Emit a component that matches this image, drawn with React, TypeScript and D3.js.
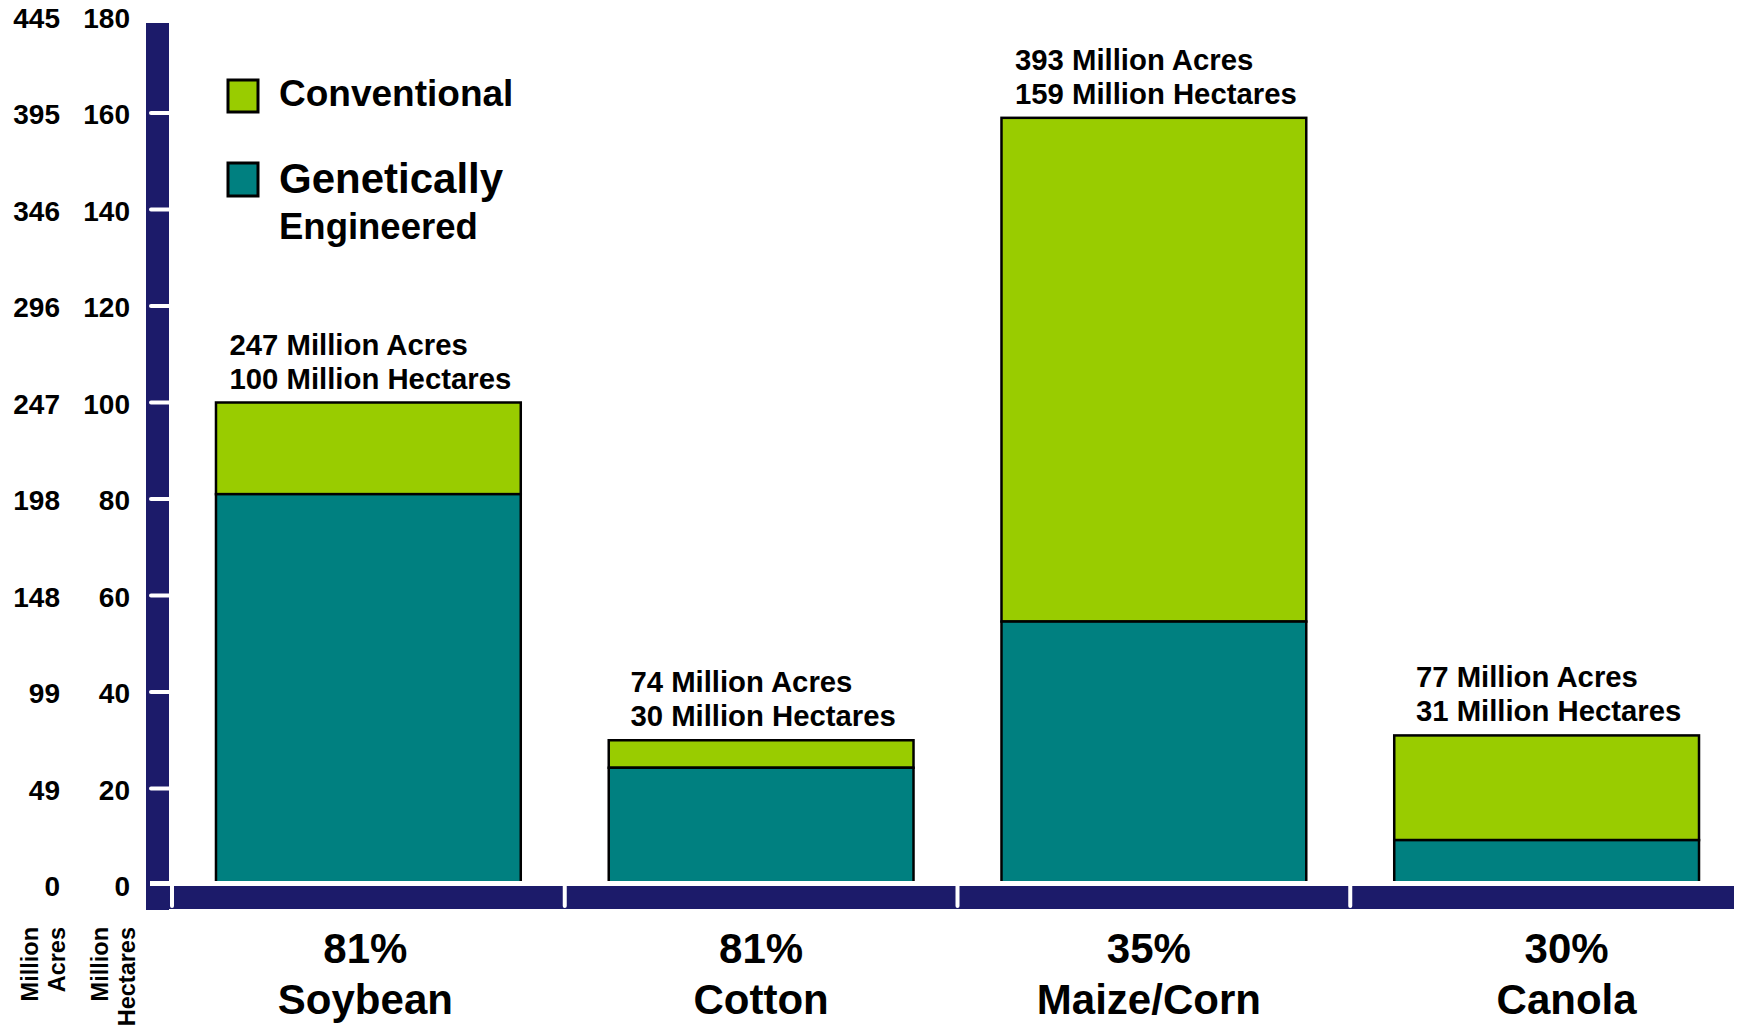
import React from "react";
import * as d3 from "d3";

const categories = ["Soybean", "Cotton", "Maize/Corn", "Canola"];
const adoptionPct = ["81%", "81%", "35%", "30%"];
const totalHectares = [100, 30, 159, 31];
const totalAcres = [247, 74, 393, 77];
const geHectares = [81, 24.3, 54.6, 9.3];
const hectareTicks = [0, 20, 40, 60, 80, 100, 120, 140, 160, 180];
const acreTickLabels = ["0", "49", "99", "148", "198", "247", "296", "346", "395", "445"];
const legendItems = ["Conventional", "Genetically"];

const W = 1741;
const H = 1027;
const NAVY = "#1c1b6a";
const GREEN = "#99cc00";
const TEAL = "#008080";
const FONT = "'Liberation Sans', Arial, Helvetica, sans-serif";
// horizontal nudge of category labels (layout only)
const labelShift = [-3, 0, -5, 20];

let ctx: CanvasRenderingContext2D | null = null;
function measure(text: string, size: number) {
  if (!ctx) ctx = document.createElement("canvas").getContext("2d");
  if (!ctx) return text.length * size * 0.55;
  ctx.font = `bold ${size}px ${FONT}`;
  return ctx.measureText(text).width;
}

export default function App() {
  const y = d3.scaleLinear().domain([0, 180]).range([885, 16.5]);
  const x = d3
    .scaleBand<string>()
    .domain(categories)
    .range([172, 1743])
    .paddingInner(0.224)
    .paddingOuter(0.112);
  const bw = x.bandwidth();
  const annSize = 29.3;

  return (
    <svg
      width={W}
      height={H}
      style={{ position: "absolute", left: 0, top: 0, background: "#fff" }}
      fontFamily={FONT}
      fontWeight="bold"
    >
      <rect x={0} y={0} width={W} height={H} fill="#fff" />

      {/* bars */}
      {categories.map((c, i) => {
        const x0 = x(c)!;
        return (
          <g key={c}>
            <rect
              x={x0}
              y={y(totalHectares[i])}
              width={bw}
              height={y(geHectares[i]) - y(totalHectares[i])}
              fill={GREEN}
              stroke="#000"
              strokeWidth={2.5}
            />
            <rect
              x={x0}
              y={y(geHectares[i])}
              width={bw}
              height={y(0) - y(geHectares[i])}
              fill={TEAL}
              stroke="#000"
              strokeWidth={2.5}
            />
          </g>
        );
      })}

      {/* annotations */}
      {categories.map((c, i) => {
        const cx = x(c)! + bw / 2;
        const l1 = `${totalAcres[i]} Million Acres`;
        const l2 = `${totalHectares[i]} Million Hectares`;
        const w2 = measure(l2, annSize);
        const left = cx - w2 / 2 + 2;
        const b2 = y(totalHectares[i]) - 14;
        return (
          <g key={"a" + c} fontSize={annSize} fill="#000">
            <text x={left} y={b2 - 34}>{l1}</text>
            <text x={left} y={b2}>{l2}</text>
          </g>
        );
      })}

      {/* axes (navy L) */}
      <rect x={146} y={23} width={23} height={887} fill={NAVY} />
      <rect x={146} y={886} width={1588} height={23} fill={NAVY} />
      <rect x={150} y={881} width={1584} height={5} fill="#fff" />
      {hectareTicks
        .filter((t) => t > 0 && y(t) >= 23)
        .map((t) => (
          <line
            key={"t" + t}
            x1={151}
            x2={169}
            y1={y(t)}
            y2={y(t)}
            stroke="#fff"
            strokeWidth={4}
            strokeLinecap="round"
          />
        ))}
      {categories.map((c) => {
        const nx = x(c)! - (x.step() * x.paddingInner()) / 2;
        return (
          <line
            key={"n" + c}
            x1={nx}
            x2={nx}
            y1={884}
            y2={906}
            stroke="#fff"
            strokeWidth={4}
            strokeLinecap="round"
          />
        );
      })}

      {/* tick labels */}
      <g fontSize={28} fill="#000" textAnchor="end">
        {hectareTicks.map((t, i) => (
          <g key={"l" + t}>
            <text x={60} y={y(t) + 11}>{acreTickLabels[i]}</text>
            <text x={130} y={y(t) + 11}>{t}</text>
          </g>
        ))}
      </g>

      {/* rotated axis titles */}
      <g fontSize={23.5} fill="#000" textAnchor="end">
        <text transform="translate(38,927) rotate(-90)">Million</text>
        <text transform="translate(65,927) rotate(-90)">Acres</text>
        <text transform="translate(108,927) rotate(-90)">Million</text>
        <text transform="translate(135,927) rotate(-90)">Hectares</text>
      </g>

      {/* category labels */}
      <g fontSize={42} fill="#000" textAnchor="middle">
        {categories.map((c, i) => {
          const cx = x(c)! + bw / 2 + labelShift[i];
          return (
            <g key={"c" + c}>
              <text x={cx} y={963}>{adoptionPct[i]}</text>
              <text x={cx} y={1014}>{c}</text>
            </g>
          );
        })}
      </g>

      {/* legend */}
      <rect x={228} y={80} width={30} height={32} fill={GREEN} stroke="#000" strokeWidth={3} />
      <text x={279} y={106} fontSize={37} fill="#000">{legendItems[0]}</text>
      <rect x={228} y={163} width={30} height={33} fill={TEAL} stroke="#000" strokeWidth={3} />
      <text x={279} y={193} fontSize={42} fill="#000">{legendItems[1]}</text>
      <text x={279} y={239} fontSize={36.5} fill="#000">Engineered</text>
    </svg>
  );
}
